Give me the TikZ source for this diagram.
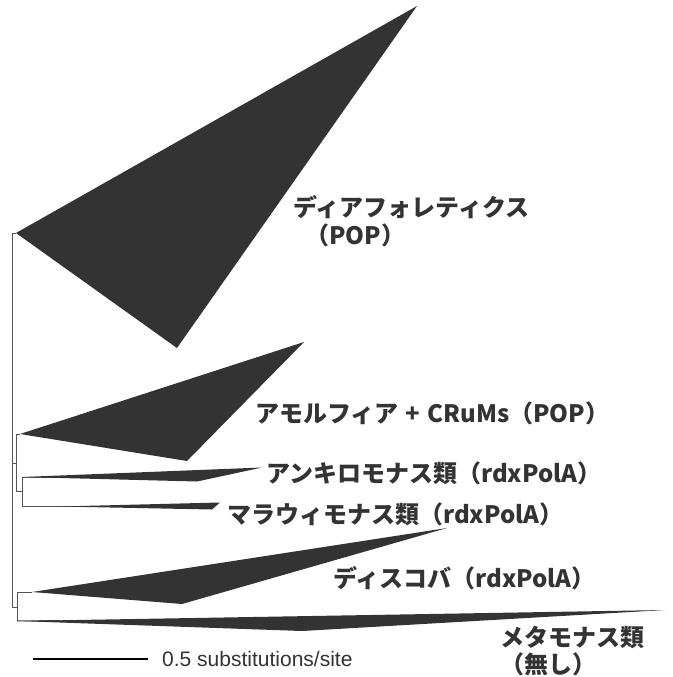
\documentclass[tikz,border=0pt]{standalone}
\usepackage{fontspec}
\setmainfont{Liberation Sans}
\newfontfamily\jpfont{Noto Sans CJK JP}
\definecolor{clade}{HTML}{333333}
\definecolor{branch}{HTML}{555555}
\definecolor{lbl}{HTML}{333333}
\begin{document}
\begin{tikzpicture}[x=1pt,y=-1pt,
  br/.style={draw=branch,line width=1pt},
  cl/.style={fill=clade,draw=none},
  lab/.style={anchor=west,inner sep=0pt,text=lbl,font=\jpfont\bfseries\fontsize{24}{28}\selectfont},
  sbar/.style={anchor=west,inner sep=0pt,text=lbl,font=\fontsize{21}{24}\selectfont}]
\useasboundingbox (0,0) rectangle (672,677);
% internal nodes
\coordinate (root) at (12,233);
\coordinate (rootb) at (12,607);
\coordinate (dia) at (16,233);
\coordinate (n2) at (12,463);
\coordinate (n2r) at (16,463);
\coordinate (n2t) at (16,434);
\coordinate (n2b) at (16,491);
\coordinate (n3) at (22,491);
\coordinate (n3t) at (22,477);
\coordinate (n3b) at (22,506);
\coordinate (n4) at (12,607);
\coordinate (n4r) at (17,607);
\coordinate (n4t) at (17,592);
\coordinate (n4b) at (17,621);
% clade apexes
\coordinate (amoA) at (20,434);
\coordinate (ancA) at (60,477);
\coordinate (malA) at (115,506);
\coordinate (disA) at (32,592);
\coordinate (metA) at (60,620.5);
% branches
\draw[br] (root) -- (rootb);
\draw[br] (root) -- (dia);
\draw[br] (n2) -- (n2r);
\draw[br] (n2t) -- (n2b);
\draw[br] (n2t) -- (amoA);
\draw[br] (n2b) -- (n3);
\draw[br] (n3t) -- (n3b);
\draw[br] (n3t) -- (ancA);
\draw[br] (n3b) -- (malA);
\draw[br] (n4) -- (n4r);
\draw[br] (n4t) -- (n4b);
\draw[br] (n4t) -- (disA);
\draw[br] (n4b) -- (metA);
% collapsed clades
\fill[cl] (dia) -- (417,6) -- (177,348) -- cycle;
\fill[cl] (amoA) -- (304,342) -- (187,461) -- cycle;
\fill[cl] (22,477) -- (262,467.5) -- (197,481.5) -- cycle;
\fill[cl] (60,506.5) -- (220,502.5) -- (212,509.5) -- cycle;
\fill[cl] (disA) -- (447,528) -- (182,604) -- cycle;
\fill[cl] (17,621) -- (665,610) -- (302,631) -- cycle;
% labels
\node[lab] (l1) at (293,207) {ディアフォレティクス};
\node[lab] (l1b) at (305,235) {（POP）};
\node[lab] (l2) at (255,413) {アモルフィア\hspace{7pt}+\hspace{7pt}CRuMs（POP）};
\node[lab] (l3) at (266,473) {アンキロモナス類（rdxPolA）};
\node[lab] (l4) at (227,514) {マラウィモナス類（rdxPolA）};
\node[lab] (l5) at (333,578) {ディスコバ（rdxPolA）};
\node[lab] (l6) at (500,637) {メタモナス類};
\node[lab] (l6b) at (500,664) {（無し）};
% scale bar
\coordinate (sb1) at (33,659);
\coordinate (sb2) at (148,659);
\draw[draw=black,line width=1.3pt] (sb1) -- (sb2);
\node[sbar] (sbt) at (162,659) {0.5 substitutions/site};
\end{tikzpicture}
\end{document}
